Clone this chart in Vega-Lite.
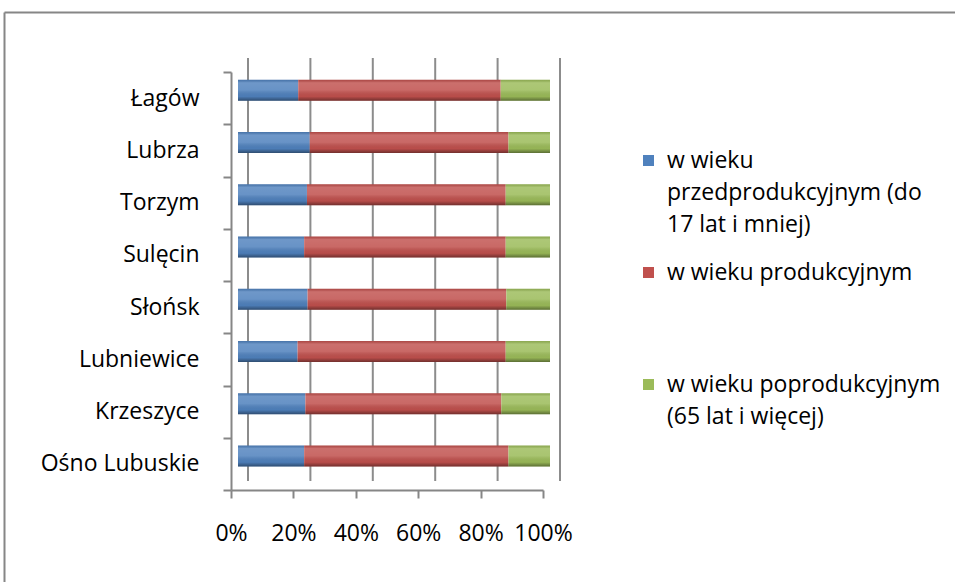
{
  "$schema": "https://vega.github.io/schema/vega-lite/v6.json",
  "width": 951,
  "height": 570,
  "autosize": {"type": "none"},
  "padding": {"left": 4, "top": 12, "right": 0, "bottom": 0},
  "config": {
    "view": {"stroke": null},
    "font": "Open Sans",
    "style": {"guide-label": {"lineHeight": 32}}
  },
  "data": {
    "values": [
      {"gmina": "Łagów", "grupa": "w wieku przedprodukcyjnym (do 17 lat i mniej)", "k": 1, "pct": 19.3},
      {"gmina": "Łagów", "grupa": "w wieku produkcyjnym", "k": 2, "pct": 64.9},
      {"gmina": "Łagów", "grupa": "w wieku poprodukcyjnym (65 lat i więcej)", "k": 3, "pct": 15.8},
      {"gmina": "Lubrza", "grupa": "w wieku przedprodukcyjnym (do 17 lat i mniej)", "k": 1, "pct": 23.0},
      {"gmina": "Lubrza", "grupa": "w wieku produkcyjnym", "k": 2, "pct": 63.7},
      {"gmina": "Lubrza", "grupa": "w wieku poprodukcyjnym (65 lat i więcej)", "k": 3, "pct": 13.3},
      {"gmina": "Torzym", "grupa": "w wieku przedprodukcyjnym (do 17 lat i mniej)", "k": 1, "pct": 22.1},
      {"gmina": "Torzym", "grupa": "w wieku produkcyjnym", "k": 2, "pct": 63.7},
      {"gmina": "Torzym", "grupa": "w wieku poprodukcyjnym (65 lat i więcej)", "k": 3, "pct": 14.2},
      {"gmina": "Sulęcin", "grupa": "w wieku przedprodukcyjnym (do 17 lat i mniej)", "k": 1, "pct": 21.2},
      {"gmina": "Sulęcin", "grupa": "w wieku produkcyjnym", "k": 2, "pct": 64.6},
      {"gmina": "Sulęcin", "grupa": "w wieku poprodukcyjnym (65 lat i więcej)", "k": 3, "pct": 14.2},
      {"gmina": "Słońsk", "grupa": "w wieku przedprodukcyjnym (do 17 lat i mniej)", "k": 1, "pct": 22.3},
      {"gmina": "Słońsk", "grupa": "w wieku produkcyjnym", "k": 2, "pct": 63.7},
      {"gmina": "Słońsk", "grupa": "w wieku poprodukcyjnym (65 lat i więcej)", "k": 3, "pct": 14.0},
      {"gmina": "Lubniewice", "grupa": "w wieku przedprodukcyjnym (do 17 lat i mniej)", "k": 1, "pct": 19.1},
      {"gmina": "Lubniewice", "grupa": "w wieku produkcyjnym", "k": 2, "pct": 66.7},
      {"gmina": "Lubniewice", "grupa": "w wieku poprodukcyjnym (65 lat i więcej)", "k": 3, "pct": 14.2},
      {"gmina": "Krzeszyce", "grupa": "w wieku przedprodukcyjnym (do 17 lat i mniej)", "k": 1, "pct": 21.6},
      {"gmina": "Krzeszyce", "grupa": "w wieku produkcyjnym", "k": 2, "pct": 62.8},
      {"gmina": "Krzeszyce", "grupa": "w wieku poprodukcyjnym (65 lat i więcej)", "k": 3, "pct": 15.6},
      {"gmina": "Ośno Lubuskie", "grupa": "w wieku przedprodukcyjnym (do 17 lat i mniej)", "k": 1, "pct": 21.2},
      {"gmina": "Ośno Lubuskie", "grupa": "w wieku produkcyjnym", "k": 2, "pct": 65.5},
      {"gmina": "Ośno Lubuskie", "grupa": "w wieku poprodukcyjnym (65 lat i więcej)", "k": 3, "pct": 13.3}
    ]
  },
  "resolve": {
    "scale": {"x": "independent", "y": "independent"},
    "axis": {"x": "independent", "y": "independent"}
  },
  "layer": [
    {
      "mark": {"type": "point", "opacity": 0},
      "encoding": {
        "x": {"datum": 0, "type": "quantitative",
          "scale": {"domain": [0, 1], "range": [0, 2000]},
          "axis": {"orient": "top", "domainColor": "#868686", "domainWidth": 2, "ticks": false, "labels": false, "grid": false, "title": null}},
        "y": {"datum": 0, "type": "quantitative",
          "scale": {"domain": [0, 1], "range": [0, 2000]},
          "axis": {"orient": "left", "domainColor": "#868686", "domainWidth": 2, "ticks": false, "labels": false, "grid": false, "title": null}}
      }
    },
    {
      "data": {"values": [{"t": 0}, {"t": 0.2}, {"t": 0.4}, {"t": 0.6}, {"t": 0.8}, {"t": 1}]},
      "mark": {"type": "rule", "xOffset": 17, "color": "#8c8c8c", "strokeWidth": 2},
      "encoding": {
        "x": {"field": "t", "type": "quantitative", "scale": {"domain": [0, 1], "range": [227, 539]}, "axis": null},
        "y": {"datum": 0, "type": "quantitative", "scale": {"domain": [0, 1], "range": [46, 469]}, "axis": null},
        "y2": {"datum": 1}
      }
    },
    {
      "mark": {"type": "bar", "xOffset": 7, "yOffset": -8, "height": 21},
      "encoding": {
        "x": {"field": "pct", "type": "quantitative", "stack": "normalize",
          "scale": {"domain": [0, 1], "range": [227, 539]},
          "axis": {"orient": "bottom", "offset": -92, "format": "%", "values": [0, 0.2, 0.4, 0.6, 0.8, 1],
            "labelOverlap": false, "labelFlush": false,
            "grid": false, "title": null, "domainColor": "#868686", "domainWidth": 2,
            "tickColor": "#868686", "tickWidth": 2, "tickSize": 8, "labelPadding": 24,
            "labelFontSize": 23, "labelColor": "#000000"}},
        "y": {"field": "gmina", "type": "nominal", "sort": null,
          "scale": {"range": [60, 478], "paddingInner": 0, "paddingOuter": 0},
          "axis": {"orient": "left", "offset": -227, "title": null, "grid": false,
            "domainColor": "#868686", "domainWidth": 2, "tickColor": "#868686", "tickWidth": 2,
            "tickSize": 8, "tickBand": "extent", "labelPadding": 24, "labelFontSize": 23, "labelColor": "#000000"}},
        "color": {"field": "grupa", "type": "nominal",
          "scale": {"domain": ["w wieku przedprodukcyjnym (do 17 lat i mniej)", "w wieku produkcyjnym", "w wieku poprodukcyjnym (65 lat i więcej)"],
            "range": ["#4F81BD", "#C0504D", "#9BBB59"]},
          "legend": {"orient": "none", "legendX": 633, "legendY": 137, "title": null,
            "symbolType": "square", "symbolSize": 121, "symbolStrokeWidth": 0,
            "labelFontSize": 23, "labelColor": "#000000", "labelLimit": 400, "labelOffset": 7,
            "rowPadding": 24, "gridAlign": "all", "labelBaseline": "middle",
            "labelExpr": "datum.label == 'w wieku produkcyjnym' ? 'w wieku produkcyjnym' : indexof(datum.label, 'przed') >= 0 ? ['w wieku', 'przedprodukcyjnym (do', '17 lat i mniej)'] : ['w wieku poprodukcyjnym', '(65 lat i więcej)']"}},
        "order": {"field": "k", "type": "quantitative"}
      }
    },
    {
      "mark": {"type": "bar", "xOffset": 7, "yOffset": -8, "height": 21,
        "fill": {"gradient": "linear", "x1": 0, "y1": 0, "x2": 0, "y2": 1,
          "stops": [
            {"offset": 0, "color": "rgba(0,0,0,0.10)"},
            {"offset": 0.15, "color": "rgba(255,255,255,0.18)"},
            {"offset": 0.5, "color": "rgba(255,255,255,0.14)"},
            {"offset": 0.8, "color": "rgba(0,0,0,0.04)"},
            {"offset": 1, "color": "rgba(0,0,0,0.40)"}
          ]}},
      "encoding": {
        "x": {"field": "pct", "type": "quantitative", "stack": "normalize",
          "scale": {"domain": [0, 1], "range": [227, 539]}, "axis": null},
        "y": {"field": "gmina", "type": "nominal", "sort": null,
          "scale": {"range": [60, 478], "paddingInner": 0, "paddingOuter": 0}, "axis": null},
        "detail": {"field": "grupa", "type": "nominal"},
        "order": {"field": "k", "type": "quantitative"}
      }
    }
  ]
}
